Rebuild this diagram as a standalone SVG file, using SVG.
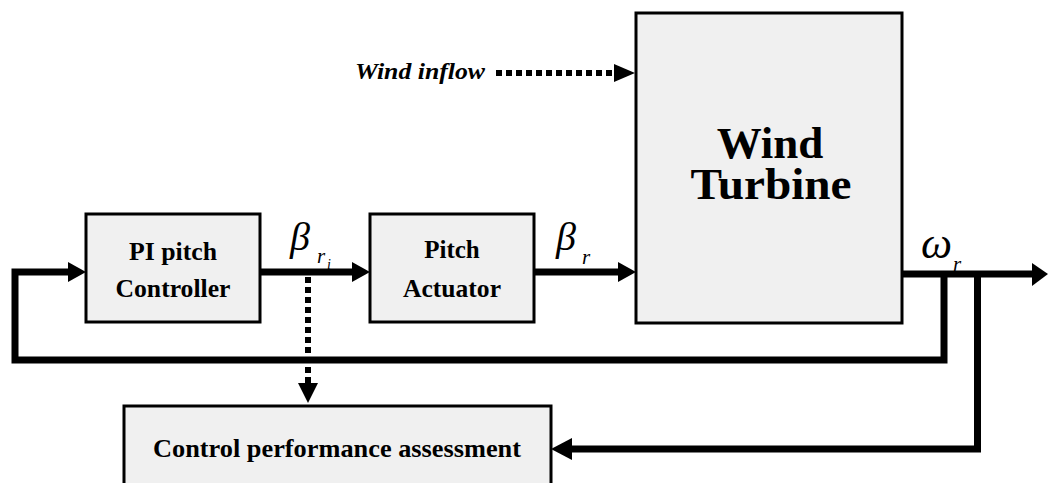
<svg xmlns="http://www.w3.org/2000/svg" width="1050" height="483" viewBox="0 0 1050 483">
<style>
.box{fill:#f0f0f0;stroke:#000;stroke-width:3}
.lbl{font-family:'Liberation Serif','Times New Roman',serif;font-weight:bold;fill:#000;text-anchor:middle}
.wire{fill:none;stroke:#000;stroke-width:7}
.dot{fill:none;stroke:#000;stroke-width:6;stroke-dasharray:6,4}
.head{fill:#000}
.sym{font-family:'Liberation Serif','Times New Roman',serif;font-style:italic;fill:#000}
</style>
<rect width="1050" height="483" fill="#fff"/>
<g id="pi-controller">
<rect class="box" x="86" y="214" width="174" height="108"/>
<text class="lbl" x="173" y="260" font-size="25" textLength="88" lengthAdjust="spacingAndGlyphs">PI pitch</text>
<text class="lbl" x="173" y="297" font-size="25" textLength="115" lengthAdjust="spacingAndGlyphs">Controller</text>
</g>
<g id="pitch-actuator">
<rect class="box" x="370" y="214" width="164" height="108"/>
<text class="lbl" x="452" y="258" font-size="25">Pitch</text>
<text class="lbl" x="452" y="297" font-size="25" textLength="98" lengthAdjust="spacingAndGlyphs">Actuator</text>
</g>
<g id="wind-turbine">
<rect class="box" x="636" y="13" width="266" height="310"/>
<text class="lbl" x="770" y="158" font-size="45">Wind</text>
<text class="lbl" x="771" y="199" font-size="45" textLength="161" lengthAdjust="spacingAndGlyphs">Turbine</text>
</g>
<g id="cpa">
<rect class="box" x="124" y="406" width="427" height="90"/>
<text class="lbl" x="337" y="457" font-size="25" textLength="368" lengthAdjust="spacingAndGlyphs">Control performance assessment</text>
</g>
<g id="wind-inflow-label">
<text x="355" y="79" font-family="'Liberation Serif', 'Times New Roman', serif" font-weight="bold" font-style="italic" font-size="23" textLength="130" lengthAdjust="spacingAndGlyphs">Wind inflow</text>
</g>
<g id="connectors">
<path class="wire" d="M944,273 V360 H15 V272 H68"/>
<polygon class="head" points="68,262 86,272 68,282"/>
<path class="wire" d="M260,272 H352"/>
<polygon class="head" points="352,262 370,272 352,282"/>
<path class="wire" d="M534,272 H618"/>
<polygon class="head" points="618,262 636,272 618,282"/>
<path class="wire" d="M902,274 H1032"/>
<polygon class="head" points="1032,263 1048,274 1032,286"/>
<path class="wire" d="M977.5,274 V449 H572"/>
<polygon class="head" points="572,438 551,449 572,460"/>
<path class="dot" d="M308,277 V383"/>
<polygon class="head" points="298,383 308,403 318,383"/>
<path class="dot" d="M496,73 H614"/>
<polygon class="head" points="614,64 635,73 614,82"/>
</g>
<g id="labels">
<text class="sym" x="290" y="250" font-size="40">β</text>
<text class="sym" x="317" y="263" font-size="21">r</text>
<text class="sym" x="327" y="269" font-size="14">i</text>
<text class="sym" x="556" y="250" font-size="40">β</text>
<text class="sym" x="582" y="264" font-size="21">r</text>
<text class="sym" x="921" y="258" font-size="44">ω</text>
<text class="sym" x="953" y="271" font-size="21">r</text>
</g>
</svg>
